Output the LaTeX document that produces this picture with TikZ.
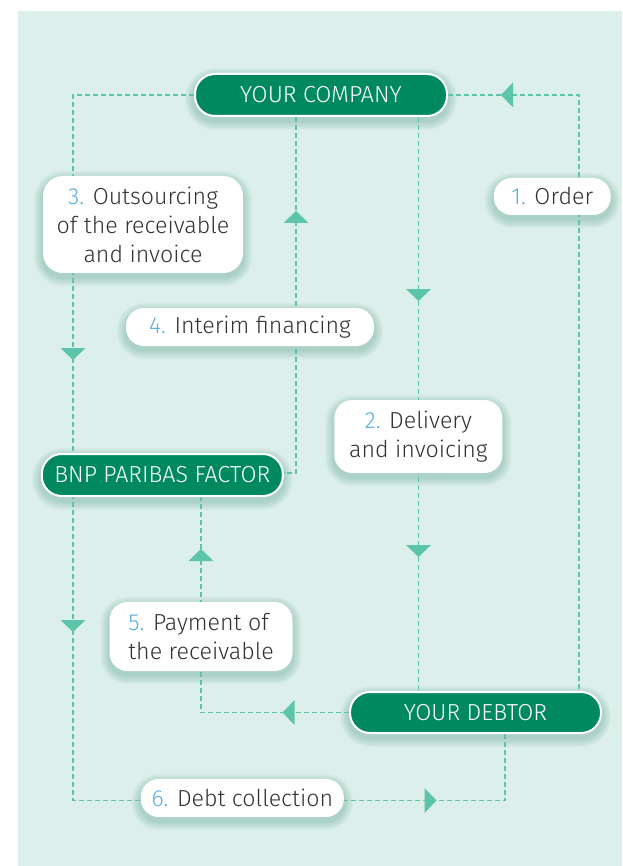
\documentclass[tikz,border=0pt]{standalone}
\usepackage{fontspec}
\setmainfont{Fira Sans}[UprightFont=* Light]
\definecolor{panel}{HTML}{DDEFEA}
\definecolor{dgreen}{HTML}{00895F}
\definecolor{linec}{HTML}{5CC4A8}
\definecolor{numc}{HTML}{5AAEE0}
\definecolor{txt}{HTML}{333333}
\definecolor{shadc}{HTML}{3A8F78}
\newcommand{\nb}[1]{\textcolor{numc}{#1}}
\newcommand{\shadowof}[2]{%
  \foreach \k in {1,...,9}{%
    \pgfmathsetmacro{\rr}{#2+\k}%
    \fill[shadc, opacity=0.035, rounded corners=\rr pt]
      ([xshift=-\k pt, yshift=\k pt-4pt]#1.north west) rectangle
      ([xshift=\k pt, yshift=-\k pt-4pt]#1.south east);
  }}
\pgfdeclarelayer{lines}
\pgfsetlayers{lines,main}
\begin{document}
\begin{tikzpicture}[x=1pt,y=-1pt,
  font=\fontsize{23.2}{29}\selectfont,
  conn/.style={draw=linec, line width=1.8pt, dash pattern=on 5pt off 3pt},
  actor/.style={fill=dgreen, draw=white, line width=2pt, rounded corners=20pt, text=white, inner sep=0pt},
  note/.style={fill=white, rounded corners=18pt, text=txt, align=center, inner sep=0pt},
  tri/.pic={\fill[linec] (0,0) -- (-12,-12.5) -- (-12,12.5) -- cycle;}
]
\useasboundingbox (0,0) rectangle (622,866);
% nodes
\node[actor, minimum width=252pt, minimum height=42pt] (comp) at (321,95) {YOUR COMPANY};
\node[actor, minimum width=251pt, minimum height=41pt] (debt) at (475.5,712.5) {YOUR DEBTOR};
\node[actor, minimum width=241pt, minimum height=42pt] (bnp) at (162.3,475) {BNP PARIBAS FACTOR};
\node[note, minimum width=117pt, minimum height=37pt] (n1) at (552.3,196.5) {\nb{1.} Order};
\node[note, minimum width=200pt, minimum height=97pt, rounded corners=20pt] (n3) at (143,224.5) {\nb{3.} Outsourcing\\of the receivable\\and invoice};
\node[note, minimum width=248pt, minimum height=38pt] (n4) at (250,327) {\nb{4.} Interim financing};
\node[note, minimum width=168pt, minimum height=73pt] (n2) at (418.3,436.5) {\nb{2.} Delivery\\and invoicing};
\node[note, minimum width=183pt, minimum height=69pt, align=left] (n5) at (201,636.5) {\nb{5.} Payment of\\the receivable};
\node[note, minimum width=203pt, minimum height=38pt] (n6) at (242.3,798) {\nb{6.} Debt collection};
% background, shadows, connectors
\begin{pgfonlayer}{lines}
\fill[panel] (18,11) rectangle (622,866);
\shadowof{comp}{21}\shadowof{debt}{21}\shadowof{bnp}{21}
\shadowof{n1}{18}\shadowof{n3}{20}\shadowof{n4}{18}
\shadowof{n2}{18}\shadowof{n5}{18}\shadowof{n6}{18}
\coordinate (ctl) at (73,95);
\coordinate (cbl) at (73,800.5);
\coordinate (cbr) at (505,800.5);
\coordinate (ctr) at (578.7,95);
\coordinate (ic) at (296,473);
\coordinate (dx) at (418.5,400);
\coordinate (pc) at (201,712.5);
\draw[conn] (comp.west) -- (ctl) -- (cbl) -- (cbr) -- (cbr |- debt.south);
\draw[conn] (comp.east) -- (ctr) -- (ctr |- debt.north);
\draw[conn] (ic |- comp.south) -- (ic) -- (ic -| bnp.east);
\draw[conn] (dx |- comp.south) -- (dx |- debt.north);
\draw[conn] (debt.west) -- (pc) -- (pc |- bnp.south);
% arrowheads
\pic[rotate=180] at (501,95) {tri};
\pic[rotate=-90] at (73,360) {tri};
\pic[rotate=-90] at (73,632) {tri};
\pic[rotate=90] at (296,211) {tri};
\pic[rotate=-90] at (418.5,301) {tri};
\pic[rotate=-90] at (418.5,557) {tri};
\pic[rotate=90] at (201,549) {tri};
\pic[rotate=180] at (282.5,712.5) {tri};
\pic at (436.5,800.5) {tri};
\end{pgfonlayer}
\end{tikzpicture}
\end{document}
